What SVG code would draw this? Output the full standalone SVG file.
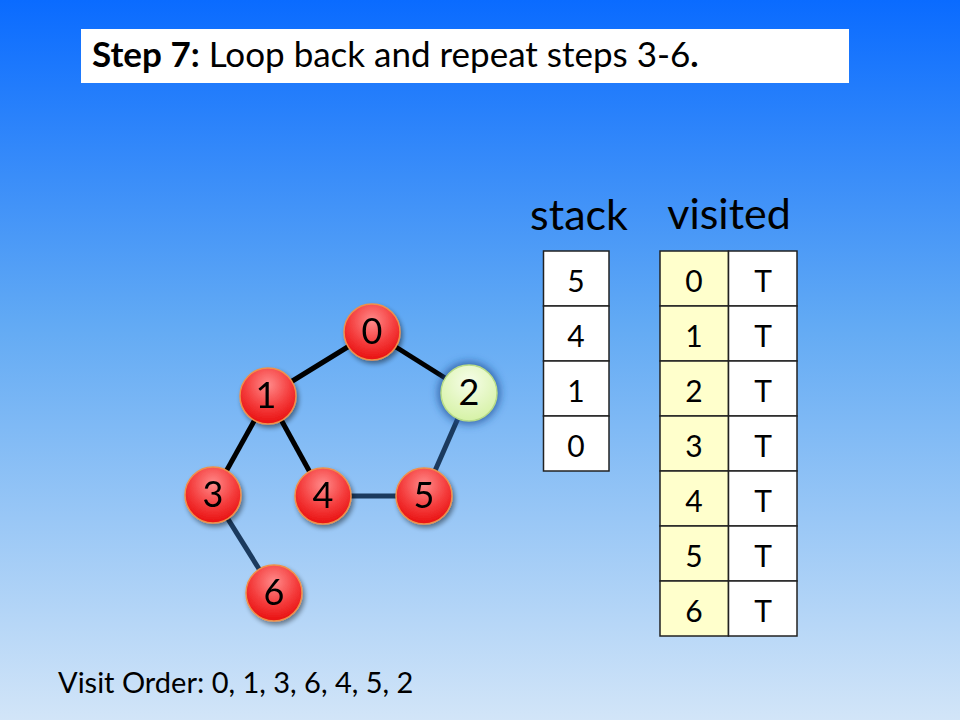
<svg xmlns="http://www.w3.org/2000/svg" width="960" height="720" viewBox="0 0 960 720">
<defs>
<linearGradient id="bg" x1="0" y1="0" x2="0" y2="1">
<stop offset="0" stop-color="#0a6bff"/>
<stop offset="0.45" stop-color="#62aaf4"/>
<stop offset="1" stop-color="#d2e5f8"/>
</linearGradient>
<radialGradient id="red" cx="0.5" cy="0.3" r="0.7">
<stop offset="0" stop-color="#ff8a8a"/>
<stop offset="0.6" stop-color="#f43a3a"/>
<stop offset="1" stop-color="#e81010"/>
</radialGradient>
<radialGradient id="green" cx="0.5" cy="0.3" r="0.7">
<stop offset="0" stop-color="#f6fde8"/>
<stop offset="1" stop-color="#d6f2a6"/>
</radialGradient>
<filter id="sh" x="-30%" y="-30%" width="160%" height="160%">
<feGaussianBlur in="SourceAlpha" stdDeviation="2.5"/>
<feOffset dx="2" dy="3" result="b"/>
<feComponentTransfer><feFuncA type="linear" slope="0.45"/></feComponentTransfer>
<feMerge><feMergeNode/><feMergeNode in="SourceGraphic"/></feMerge>
</filter>
<filter id="glow" x="-50%" y="-50%" width="200%" height="200%">
<feGaussianBlur in="SourceGraphic" stdDeviation="4"/>
</filter>
</defs>
<style>
text{font-family:Lato,"Open Sans",sans-serif;fill:#000}
.node{stroke:#f0904a;stroke-width:1.5}
.lbl{font-size:36px;text-anchor:middle}
.cell{fill:#fff;stroke:#222;stroke-width:1.5}
.key{fill:#ffffcc;stroke:#222;stroke-width:1.5}
.ct{font-size:30px;text-anchor:middle}
.e1{stroke:#000;stroke-width:5}
.e2{stroke:#1b3a5e;stroke-width:5}
</style>
<rect width="960" height="720" fill="url(#bg)"/>
<g id="title">
<rect x="81" y="29" width="768" height="54" fill="#fff"/>
<text x="92" y="67" font-size="35"><tspan font-weight="bold">Step 7:</tspan> Loop back and repeat steps 3-6<tspan font-weight="bold">.</tspan></text>
</g>
<g id="connectors">
<line class="e1" x1="372" y1="332" x2="268" y2="396"/>
<line class="e1" x1="372" y1="332" x2="469" y2="393"/>
<line class="e1" x1="268" y1="396" x2="213" y2="495"/>
<line class="e1" x1="268" y1="396" x2="323" y2="496"/>
<line class="e2" x1="469" y1="393" x2="424" y2="496"/>
<line class="e2" x1="323" y1="496" x2="424" y2="496"/>
<line class="e2" x1="213" y1="495" x2="274" y2="593"/>
</g>
<g id="node0" filter="url(#sh)"><circle class="node" cx="372" cy="332" r="28" fill="url(#red)"/><text class="lbl" x="372" y="344">0</text></g>
<g id="node1" filter="url(#sh)"><circle class="node" cx="268" cy="396" r="28" fill="url(#red)"/><text class="lbl" x="266" y="408">1</text></g>
<g id="node2"><circle cx="469" cy="393" r="31" fill="#1e4f96" fill-opacity="0.8" filter="url(#glow)"/><circle cx="469" cy="393" r="28" fill="url(#green)" stroke="#b8dc88" stroke-width="1.5"/><text class="lbl" x="469" y="405">2</text></g>
<g id="node3" filter="url(#sh)"><circle class="node" cx="213" cy="495" r="28" fill="url(#red)"/><text class="lbl" x="213" y="507">3</text></g>
<g id="node4" filter="url(#sh)"><circle class="node" cx="323" cy="496" r="28" fill="url(#red)"/><text class="lbl" x="323" y="508">4</text></g>
<g id="node5" filter="url(#sh)"><circle class="node" cx="424" cy="496" r="28" fill="url(#red)"/><text class="lbl" x="424" y="508">5</text></g>
<g id="node6" filter="url(#sh)"><circle class="node" cx="274" cy="593" r="28" fill="url(#red)"/><text class="lbl" x="274" y="605">6</text></g>
<g id="stack">
<text x="579" y="230" font-size="43" text-anchor="middle">stack</text>
<rect class="cell" x="543.5" y="251" width="65.5" height="55"/>
<rect class="cell" x="543.5" y="306" width="65.5" height="55"/>
<rect class="cell" x="543.5" y="361" width="65.5" height="55"/>
<rect class="cell" x="543.5" y="416" width="65.5" height="55"/>
<text class="ct" x="576" y="292">5</text>
<text class="ct" x="576" y="347">4</text>
<text class="ct" x="576" y="402">1</text>
<text class="ct" x="576" y="457">0</text>
</g>
<g id="visited">
<text x="729" y="229" font-size="43" text-anchor="middle">visited</text>
<rect class="key" x="660" y="251" width="68.5" height="55"/><rect class="cell" x="728.5" y="251" width="68.5" height="55"/>
<rect class="key" x="660" y="306" width="68.5" height="55"/><rect class="cell" x="728.5" y="306" width="68.5" height="55"/>
<rect class="key" x="660" y="361" width="68.5" height="55"/><rect class="cell" x="728.5" y="361" width="68.5" height="55"/>
<rect class="key" x="660" y="416" width="68.5" height="55"/><rect class="cell" x="728.5" y="416" width="68.5" height="55"/>
<rect class="key" x="660" y="471" width="68.5" height="55"/><rect class="cell" x="728.5" y="471" width="68.5" height="55"/>
<rect class="key" x="660" y="526" width="68.5" height="55"/><rect class="cell" x="728.5" y="526" width="68.5" height="55"/>
<rect class="key" x="660" y="581" width="68.5" height="55"/><rect class="cell" x="728.5" y="581" width="68.5" height="55"/>
<text class="ct" x="694" y="292">0</text><text class="ct" x="763" y="292">T</text>
<text class="ct" x="694" y="347">1</text><text class="ct" x="763" y="347">T</text>
<text class="ct" x="694" y="402">2</text><text class="ct" x="763" y="402">T</text>
<text class="ct" x="694" y="457">3</text><text class="ct" x="763" y="457">T</text>
<text class="ct" x="694" y="512">4</text><text class="ct" x="763" y="512">T</text>
<text class="ct" x="694" y="567">5</text><text class="ct" x="763" y="567">T</text>
<text class="ct" x="694" y="622">6</text><text class="ct" x="763" y="622">T</text>
</g>
<text id="order" x="58" y="693" font-size="29">Visit Order: 0, 1, 3, 6, 4, 5, 2</text>
</svg>
